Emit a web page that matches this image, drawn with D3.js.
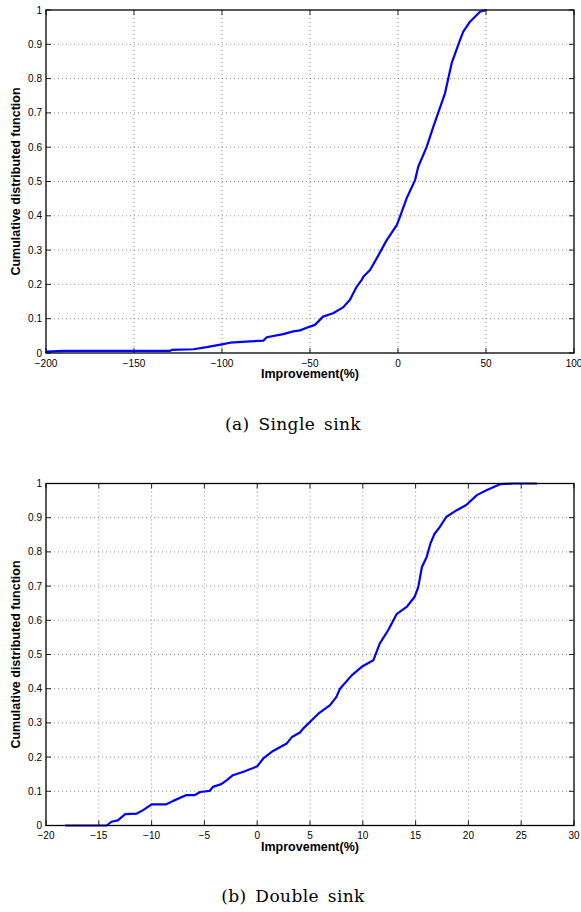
<!DOCTYPE html>
<html>
<head>
<meta charset="utf-8">
<script src="https://cdn.jsdelivr.net/npm/d3@7"></script>
<style>
  html, body { margin: 0; padding: 0; background: #fff; }
  svg { display: block; }
  .tick-label { font-family: "Liberation Sans", Arial, sans-serif; font-size: 10px; fill: #000; }
  .axis-title { font-family: "Liberation Sans", Arial, sans-serif; font-size: 12.5px; font-weight: bold; fill: #000; }
  .caption { font-family: "DejaVu Serif", "Liberation Serif", serif; font-size: 17px; letter-spacing: 0.4px; word-spacing: 3px; fill: #000; }
</style>
</head>
<body>
<svg id="chart" width="581" height="912"></svg>
<script>
// Empirical CDF of the improvement, single sink
const singleX = [-200, -189.6, -129.5, -128.6, -116.3, -108.7, -99.3, -95.5, -84, -76.5, -74.6, -65.2, -59.5,
  -55.7, -50, -47.2, -42.6, -36.9, -31.2, -27.3, -23.5, -20.6, -19.7, -15.9, -12.1, -6.4, -0.7, 1.1, 4.9,
  9.7, 11.5, 16.3, 20.1, 26.7, 30.5, 35.2, 37.1, 40.9, 46.6, 50.4];
const singleY = [0.004, 0.006, 0.006, 0.009, 0.011, 0.017, 0.026, 0.030, 0.034, 0.036, 0.046, 0.055, 0.063,
  0.066, 0.077, 0.082, 0.106, 0.116, 0.133, 0.155, 0.193, 0.213, 0.222, 0.242, 0.276, 0.329, 0.373, 0.397, 0.451,
  0.504, 0.543, 0.601, 0.660, 0.757, 0.845, 0.912, 0.937, 0.966, 0.995, 1.0];

// Empirical CDF of the improvement, double sink
const doubleX = [-18.2, -14.25, -13.8, -13.2, -12.5, -11.4, -10.8, -10.0, -8.6, -7.95, -6.7, -5.9, -5.4, -4.5,
  -4.2, -3.4, -2.9, -2.3, -1.3, 0, 0.58, 1.5, 2.8, 3.3, 4.05, 4.37, 5.16, 5.79, 6.9, 7.5, 7.84, 8.95, 9.9,
  11.0, 11.6, 12.4, 13.2, 14.15, 14.9, 15.25, 15.6, 16.05, 16.4, 16.8, 17.3, 17.9, 18.9, 19.8, 20.8, 21.7,
  23.0, 24.3, 26.5];
const doubleY = [0, 0, 0.011, 0.015, 0.033, 0.035, 0.045, 0.062, 0.062, 0.072, 0.089, 0.089, 0.098, 0.101,
  0.113, 0.121, 0.132, 0.147, 0.157, 0.173, 0.196, 0.218, 0.240, 0.259, 0.272, 0.284, 0.308, 0.327, 0.352, 0.376,
  0.400, 0.439, 0.464, 0.483, 0.532, 0.571, 0.618, 0.639, 0.668, 0.697, 0.756, 0.785, 0.824, 0.853, 0.873,
  0.902, 0.922, 0.937, 0.966, 0.980, 0.998, 1.0, 1.0];

const singleXTicks = [-200, -150, -100, -50, 0, 50, 100];
const doubleXTicks = [-20, -15, -10, -5, 0, 5, 10, 15, 20, 25, 30];
const yTicks = [0, 0.1, 0.2, 0.3, 0.4, 0.5, 0.6, 0.7, 0.8, 0.9, 1];

const xTitle = "Improvement(%)";
const yTitle = "Cumulative distributed function";
const captions = ["(a) Single sink", "(b) Double sink"];

const svg = d3.select("#chart");
const fmtNum = d => (d < 0 ? "\u2212" : "") + Math.abs(d);

function drawPanel(opts) {
  const { xs, ys, xDomain, xTicks, left, right, top, bottom, caption, captionY } = opts;
  const x = d3.scaleLinear().domain(xDomain).range([left, right]);
  const y = d3.scaleLinear().domain([0, 1]).range([bottom, top]);
  const g = svg.append("g");

  // dotted grid
  g.append("g").selectAll("line.vg").data(xTicks.slice(1, -1)).join("line")
    .attr("x1", d => x(d)).attr("x2", d => x(d)).attr("y1", top).attr("y2", bottom)
    .attr("stroke", "#8c8c8c").attr("stroke-width", 1).attr("stroke-dasharray", "1,3");
  g.append("g").selectAll("line.hg").data(yTicks.slice(1, -1)).join("line")
    .attr("x1", left).attr("x2", right).attr("y1", d => y(d)).attr("y2", d => y(d))
    .attr("stroke", "#8c8c8c").attr("stroke-width", 1).attr("stroke-dasharray", "1,3");

  // inward ticks on all four sides
  const tl = 5;
  const tk = g.append("g").attr("stroke", "#222").attr("stroke-width", 1);
  xTicks.forEach(d => {
    tk.append("line").attr("x1", x(d)).attr("x2", x(d)).attr("y1", bottom).attr("y2", bottom - tl);
    tk.append("line").attr("x1", x(d)).attr("x2", x(d)).attr("y1", top).attr("y2", top + tl);
  });
  yTicks.forEach(d => {
    tk.append("line").attr("x1", left).attr("x2", left + tl).attr("y1", y(d)).attr("y2", y(d));
    tk.append("line").attr("x1", right).attr("x2", right - tl).attr("y1", y(d)).attr("y2", y(d));
  });

  // CDF curve
  const line = d3.line().x(d => x(d[0])).y(d => y(d[1]));
  g.append("path").datum(d3.zip(xs, ys))
    .attr("d", line).attr("fill", "none")
    .attr("stroke", "#0000ff").attr("stroke-width", 2.2).attr("stroke-linejoin", "round");

  // frame
  g.append("rect").attr("x", left).attr("y", top).attr("width", right - left).attr("height", bottom - top)
    .attr("fill", "none").attr("stroke", "#000").attr("stroke-width", 1.3);

  // tick labels
  g.append("g").selectAll("text").data(xTicks).join("text")
    .attr("class", "tick-label").attr("x", d => x(d)).attr("y", bottom + 13.5)
    .attr("text-anchor", "middle").text(fmtNum);
  g.append("g").selectAll("text").data(yTicks).join("text")
    .attr("class", "tick-label").attr("x", left - 4).attr("y", d => y(d)).attr("dy", "0.35em")
    .attr("text-anchor", "end").text(d => String(d));

  // axis titles
  g.append("text").attr("class", "axis-title")
    .attr("x", (left + right) / 2).attr("y", bottom + 25)
    .attr("text-anchor", "middle").text(xTitle);
  g.append("text").attr("class", "axis-title")
    .attr("transform", `translate(20,${(top + bottom) / 2}) rotate(-90)`)
    .attr("text-anchor", "middle").text(yTitle);

  // caption
  g.append("text").attr("class", "caption")
    .attr("x", 293).attr("y", captionY)
    .attr("text-anchor", "middle").text(caption);
}

drawPanel({ xs: singleX, ys: singleY, xDomain: [-200, 100], xTicks: singleXTicks,
  left: 46, right: 574, top: 10, bottom: 353, caption: captions[0], captionY: 430 });
drawPanel({ xs: doubleX, ys: doubleY, xDomain: [-20, 30], xTicks: doubleXTicks,
  left: 46, right: 574, top: 483.5, bottom: 825.5, caption: captions[1], captionY: 902 });
</script>
</body>
</html>
